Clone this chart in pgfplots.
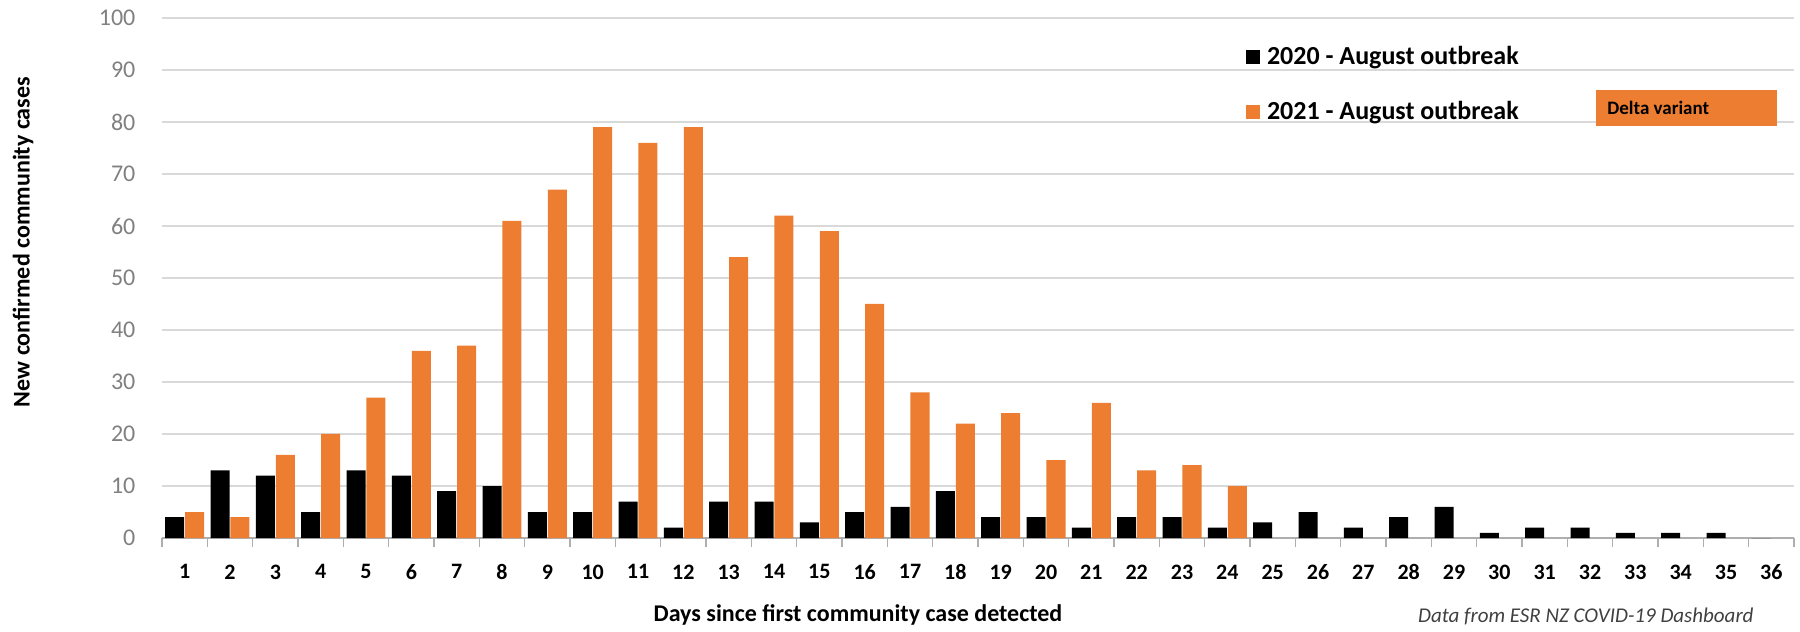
\documentclass[border=0pt]{standalone}
\usepackage{fontspec}
\setmainfont{Carlito}
\usepackage{pgfplots}
\pgfplotsset{compat=1.18}
\definecolor{cOrange}{HTML}{ED7D31}
\definecolor{cGrid}{HTML}{D9D9D9}
\definecolor{cTick}{HTML}{808080}
\begin{document}
\begin{tikzpicture}[x=1pt,y=1pt]
\useasboundingbox (0,0) rectangle (900,316);
\begin{axis}[
  at={(81pt,47pt)}, anchor=south west,
  scale only axis, width=816pt, height=260pt,
  xmin=0.5, xmax=36.5, ymin=0, ymax=100,
  ybar,
  axis x line=bottom, axis y line=left,
  separate axis lines,
  x axis line style={-, draw=cGrid!80!black, line width=0.8pt},
  y axis line style={draw=none},
  xtick={1,...,36},
  minor xtick={0.5,1.5,...,36.5},
  major x tick style={draw=none},
  minor x tick style={draw=cGrid!80!black, line width=0.8pt},
  minor tick length=4.5pt,
  tick align=outside,
  ytick={0,10,...,100},
  major y tick style={draw=none},
  ymajorgrids,
  grid style={draw=cGrid, line width=1pt},
  /pgf/number format/assume math mode=true,
  xticklabel style={font=\bfseries\fontsize{11}{11}\selectfont, text=black, yshift=-5.5pt},
  yticklabel style={font=\fontsize{12}{12}\selectfont, text=cTick, xshift=-5.5pt},
  legend style={at={(rel axis cs:0.664,0.95)}, anchor=north west, draw=none, fill=none,
    inner sep=0pt, row sep=15pt, font=\bfseries\fontsize{13}{13}\selectfont,
    nodes={inner sep=1pt, anchor=west}},
  legend cell align=left,
  legend image code/.code={\fill[#1, draw=none] (0pt,-3.5pt) rectangle (7pt,3.5pt); \path (9.5pt,0pt);},
]
\addplot[fill=black, draw=none, bar width=0.42, bar shift=-0.22] coordinates {
(1,4) (2,13) (3,12) (4,5) (5,13) (6,12) (7,9) (8,10) (9,5) (10,5) (11,7) (12,2)
(13,7) (14,7) (15,3) (16,5) (17,6) (18,9) (19,4) (20,4) (21,2) (22,4) (23,4) (24,2)
(25,3) (26,5) (27,2) (28,4) (29,6) (30,1) (31,2) (32,2) (33,1) (34,1) (35,1) (36,0)};
\addlegendentry{2020 - August outbreak}
\addplot[fill=cOrange, draw=none, bar width=0.42, bar shift=0.22] coordinates {
(1,5) (2,4) (3,16) (4,20) (5,27) (6,36) (7,37) (8,61) (9,67) (10,79) (11,76) (12,79)
(13,54) (14,62) (15,59) (16,45) (17,28) (18,22) (19,24) (20,15) (21,26) (22,13) (23,14) (24,10)};
\addlegendentry{2021 - August outbreak}
\end{axis}
\node[rotate=90, font=\bfseries\fontsize{12}{12}\selectfont] at (11.5,195) {New confirmed community cases};
\node[font=\bfseries\fontsize{12}{12}\selectfont] at (429,8.5) {Days since first community case detected};
\node[anchor=east, font=\itshape\fontsize{10.5}{12}\selectfont, text=black!75, inner sep=0pt] at (877,8) {Data from ESR NZ COVID-19 Dashboard};
\fill[cOrange] (798,253) rectangle (888.5,271);
\node[anchor=west, font=\bfseries\fontsize{9.5}{10}\selectfont, inner sep=0pt] at (803.5,262) {Delta variant};
\end{tikzpicture}
\end{document}
